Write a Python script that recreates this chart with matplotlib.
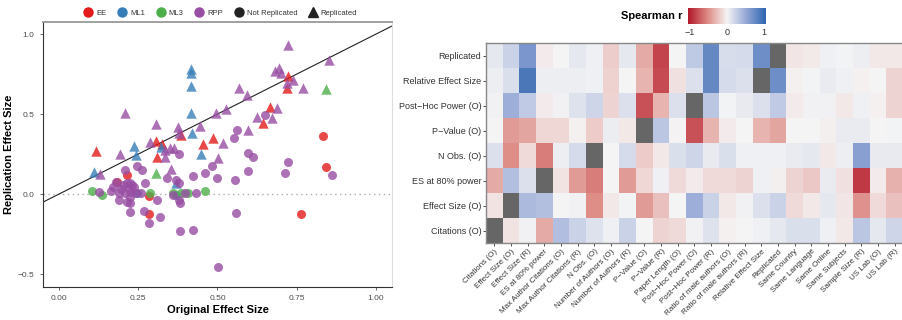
import numpy as np
import matplotlib.pyplot as plt
from matplotlib.colors import LinearSegmentedColormap
from matplotlib.lines import Line2D

plt.rcParams['font.family'] = ['Liberation Sans', 'DejaVu Sans']

# ---- scatter data: original vs replication effect size ----
ee_orig = [0.118, 0.305, 0.326, 0.309, 0.386, 0.453, 0.485, 0.643, 0.664, 0.722, 0.718,
           0.832, 0.842, 0.762, 0.283, 0.283, 0.183, 0.214]
ee_repl = [0.269, 0.333, 0.313, 0.233, 0.369, 0.313, 0.352, 0.442, 0.542, 0.738, 0.660,
           0.365, 0.169, -0.121, -0.013, -0.125, 0.077, 0.119]
ee_rep = [1] * 11 + [0] * 7

ml1_orig = [0.417, 0.417, 0.415, 0.415, 0.420, 0.449, 0.236, 0.242, 0.322, 0.112, 0.370,
            0.247, 0.370]
ml1_repl = [0.779, 0.754, 0.675, 0.508, 0.383, 0.248, 0.300, 0.244, 0.296, 0.140, 0.067,
            0.010, -0.006]
ml1_rep = [1] * 11 + [0] * 2

ml3_orig = [0.842, 0.305, 0.105, 0.137, 0.286, 0.361, 0.386, 0.407, 0.461]
ml3_repl = [0.656, 0.129, 0.021, -0.006, 0.008, 0.010, 0.004, 0.004, 0.021]
ml3_rep = [1, 1, 0, 0, 0, 0, 0, 0, 0]

rpp_orig = [0.722, 0.851, 0.695, 0.680, 0.701, 0.737, 0.718, 0.769, 0.569, 0.593, 0.687,
            0.624, 0.672, 0.527, 0.496, 0.596, 0.517, 0.503, 0.446, 0.210, 0.305, 0.194,
            0.375, 0.380, 0.288, 0.349, 0.364, 0.336, 0.333, 0.130, 0.354,
            0.860, 0.722, 0.714, 0.650, 0.561, 0.551, 0.596, 0.611, 0.596, 0.555, 0.498,
            0.461, 0.483, 0.424, 0.559, 0.501, 0.382, 0.424, 0.318, 0.284, 0.268, 0.223,
            0.310, 0.380, 0.382, 0.399, 0.433, 0.359, 0.341, 0.370, 0.378, 0.380, 0.272,
            0.247, 0.262, 0.210, 0.179, 0.170, 0.165, 0.128, 0.188, 0.189, 0.214, 0.223,
            0.202, 0.214, 0.223, 0.231, 0.221, 0.228, 0.207, 0.238, 0.196, 0.223, 0.244,
            0.259]
rpp_repl = [0.931, 0.838, 0.785, 0.771, 0.754, 0.713, 0.692, 0.660, 0.660, 0.619, 0.535,
            0.483, 0.473, 0.529, 0.508, 0.400, 0.321, 0.223, 0.425, 0.504, 0.438, 0.250,
            0.417, 0.379, 0.327, 0.285, 0.285, 0.275, 0.233, 0.125, 0.154,
            0.117, 0.202, 0.129, 0.494, 0.400, 0.348, 0.254, 0.229, 0.146, 0.088, 0.098,
            0.133, 0.175, 0.113, -0.115, -0.458, -0.229, -0.221, -0.142, -0.179, -0.104, -0.110,
            -0.038, -0.038, -0.054, 0.004, 0.008, -0.006, 0.098, 0.088, 0.067, 0.248, 0.071,
            0.177, 0.150, 0.150, 0.077, 0.042, 0.021, 0.015, 0.004, -0.038, -0.048, -0.054,
            0.056, 0.067, 0.067, 0.056, 0.029, 0.015, 0.008, 0.046, 0.035, -0.017, 0.004,
            0.010]
rpp_rep = [1] * 31 + [0] * 56

studies = ['EE', 'ML1', 'ML3', 'RPP']
study_colors = ['#E41A1C', '#377EB8', '#4DAF4A', '#984EA3']

# ---- heatmap data: Spearman correlations ----
hm_rows = ['Replicated', 'Relative Effect Size', 'Post\u2212Hoc Power (O)', 'P\u2212Value (O)',
           'N Obs. (O)', 'ES at 80% power', 'Effect Size (O)', 'Citations (O)']
hm_cols = ['Citations (O)', 'Effect Size (O)', 'Effect Size (R)', 'ES at 80% power',
           'Max Author Citations (O)', 'Max Author Citations (R)', 'N Obs. (O)',
           'Number of Authors (O)', 'Number of Authors (R)', 'P\u2212Value (O)', 'P\u2212Value (R)',
           'Paper Length (O)', 'Post\u2212Hoc Power (O)', 'Post\u2212Hoc Power (R)',
           'Ratio of male authors (O)', 'Ratio of male authors (R)', 'Relative Effect Size',
           'Replicated', 'Same Country', 'Same Language', 'Same Online', 'Same Subjects',
           'Sample Size (R)', 'US Lab (O)', 'US Lab (R)']
hm_values = [
    [0.08, 0.22, 0.62, -0.04, 0.0, 0.08, 0.03, -0.18, 0.08, -0.35, -0.8, 0.0, 0.28, 0.72,
     0.15, 0.16, 0.68, 1, -0.07, -0.05, 0.03, 0.01, 0.04, -0.06, -0.06],
    [0.04, 0.14, 0.85, 0.04, 0.04, 0.04, 0.03, -0.16, 0.0, -0.3, -0.78, -0.09, 0.13, 0.72,
     0.16, 0.13, 1, 0.68, -0.02, 0.01, 0.06, 0.03, -0.02, 0.0, -0.15],
    [0.02, 0.45, 0.27, -0.04, 0.02, 0.12, 0.2, -0.15, 0.13, -0.75, -0.3, 0.13, 1, 0.29,
     0.01, 0.07, 0.13, 0.27, -0.04, 0.02, 0.02, -0.06, 0.03, -0.02, -0.15],
    [0.0, -0.42, -0.37, -0.14, -0.14, -0.02, -0.19, 0.05, -0.06, 1, 0.29, -0.01, -0.75, -0.3,
     -0.04, 0.0, -0.3, -0.37, 0.0, 0.0, -0.03, 0.06, 0.06, 0.0, 0.01],
    [0.13, -0.48, -0.12, -0.55, 0.04, 0.16, 1, 0.0, 0.16, -0.19, -0.06, 0.14, 0.2, 0.07,
     0.14, 0.03, 0.03, 0.03, 0.06, 0.08, -0.06, 0.04, 0.55, 0.07, 0.07],
    [-0.35, 0.34, 0.13, 1, -0.08, -0.42, -0.55, 0.0, -0.42, -0.14, 0.03, -0.12, -0.04, -0.12,
     -0.12, -0.15, 0.03, -0.03, -0.15, -0.21, 0.06, -0.09, -0.85, -0.04, -0.32],
    [-0.08, 1, 0.37, 0.34, 0.0, 0.02, -0.48, -0.06, 0.01, -0.42, -0.25, 0.0, 0.45, 0.22,
     -0.06, 0.02, 0.13, 0.22, -0.12, -0.06, 0.08, -0.07, -0.46, -0.12, -0.25],
    [1, -0.08, 0.02, -0.35, 0.35, 0.22, 0.12, 0.03, 0.22, 0.0, -0.15, -0.12, 0.02, 0.12,
     -0.02, 0.0, 0.03, 0.08, 0.14, 0.14, 0.03, -0.06, 0.29, 0.08, 0.2],
]

W, H = 903, 320
fig = plt.figure(figsize=(W / 100, H / 100), dpi=100)


def px_axes(l, t, r, b):
    return fig.add_axes([l / W, 1 - b / H, (r - l) / W, (b - t) / H])


# ---- left: scatter ----
ax = px_axes(43, 22, 392, 287)
ax.axhline(0, color='#aaaaaa', lw=1.0, ls=(0, (1, 2.5)), zorder=1)
ax.axline((0, 0), slope=1, color='#222222', lw=0.8, zorder=1)

all_orig = [ee_orig, ml1_orig, ml3_orig, rpp_orig]
all_repl = [ee_repl, ml1_repl, ml3_repl, rpp_repl]
all_rep = [ee_rep, ml1_rep, ml3_rep, rpp_rep]
for name, col, xo, yr, rp in zip(studies, study_colors, all_orig, all_repl, all_rep):
    xo, yr, rp = np.array(xo), np.array(yr), np.array(rp)
    ax.scatter(xo[rp == 0], yr[rp == 0], s=42, marker='o', color=col, alpha=0.8,
               linewidths=0, zorder=2)
    ax.scatter(xo[rp == 1], yr[rp == 1], s=56, marker='^', color=col, alpha=0.8,
               linewidths=0, zorder=2)

ax.set_xlim(-0.05, 1.05)
ax.set_ylim(-0.58, 1.075)
ax.set_xticks([0, 0.25, 0.5, 0.75, 1.0])
ax.set_xticklabels(['0.00', '0.25', '0.50', '0.75', '1.00'])
ax.set_yticks([-0.5, 0, 0.5, 1.0])
ax.set_yticklabels(['\u22120.5', '0.0', '0.5', '1.0'])
ax.tick_params(labelsize=6, colors='#4D4D4D', length=2.5, width=0.6)
ax.set_xlabel('Original Effect Size', fontsize=8, fontweight='bold', labelpad=2)
ax.set_ylabel('Replication Effect Size', fontsize=8, fontweight='bold', labelpad=3)
ax.spines['left'].set_color('#333333')
ax.spines['bottom'].set_color('#333333')
ax.spines['top'].set_color('#999999')
ax.spines['top'].set_linewidth(1.3)
ax.spines['right'].set_color('#dddddd')

handles = [Line2D([], [], marker='o', ls='', color=c, markersize=6.5) for c in study_colors]
handles += [Line2D([], [], marker='o', ls='', color='#222222', markersize=6.5),
            Line2D([], [], marker='^', ls='', color='#222222', markersize=7.5)]
fig.legend(handles, studies + ['Not Replicated', 'Replicated'], loc='center',
           bbox_to_anchor=(221 / W, 1 - 13 / H), ncol=6, frameon=False, fontsize=5.5,
           handletextpad=0.5, columnspacing=1.6, handlelength=1.0, labelcolor='#333333')

# ---- right: heatmap ----
cmap = LinearSegmentedColormap.from_list(
    'rb', [(0, '#B2182B'), (0.25, '#DE8A84'), (0.5, '#F5F5F5'), (0.75, '#94A7D6'), (1, '#2D64AE')])
cmap.set_bad('#666666')

vals = np.array(hm_values, dtype=float)
mask = np.array([[r == c for c in hm_cols] for r in hm_rows])
vals = np.ma.masked_where(mask, vals)

hx = px_axes(486, 43, 903, 243)
hx.imshow(vals, cmap=cmap, vmin=-1, vmax=1, aspect='auto', interpolation='nearest')
hx.set_xticks(range(len(hm_cols)))
hx.set_xticklabels(hm_cols, rotation=45, ha='right', rotation_mode='anchor', fontsize=5.8)
hx.set_yticks(range(len(hm_rows)))
hx.set_yticklabels(hm_rows, fontsize=6.5)
hx.tick_params(colors='#333333', length=2, width=0.6, pad=1.5)
for sp in hx.spines.values():
    sp.set_color('#888888')
    sp.set_linewidth(1.0)

# colorbar
cb = px_axes(688, 8, 766, 24)
cb.imshow(np.linspace(-1, 1, 256)[None, :], cmap=cmap, vmin=-1, vmax=1,
          extent=[-1.05, 1.05, 0, 1], aspect='auto')
cb.set_xlim(-1.05, 1.05)
cb.set_yticks([])
cb.set_xticks([-1, 0, 1])
cb.set_xticklabels(['\u22121', '0', '1'])
cb.tick_params(labelsize=6.5, colors='#333333', length=0, pad=3)
for sp in cb.spines.values():
    sp.set_visible(False)
fig.text(683 / W, 1 - 16 / H, 'Spearman r', ha='right', va='center', fontsize=8,
         fontweight='bold')

fig.savefig('out.png', dpi=100)
